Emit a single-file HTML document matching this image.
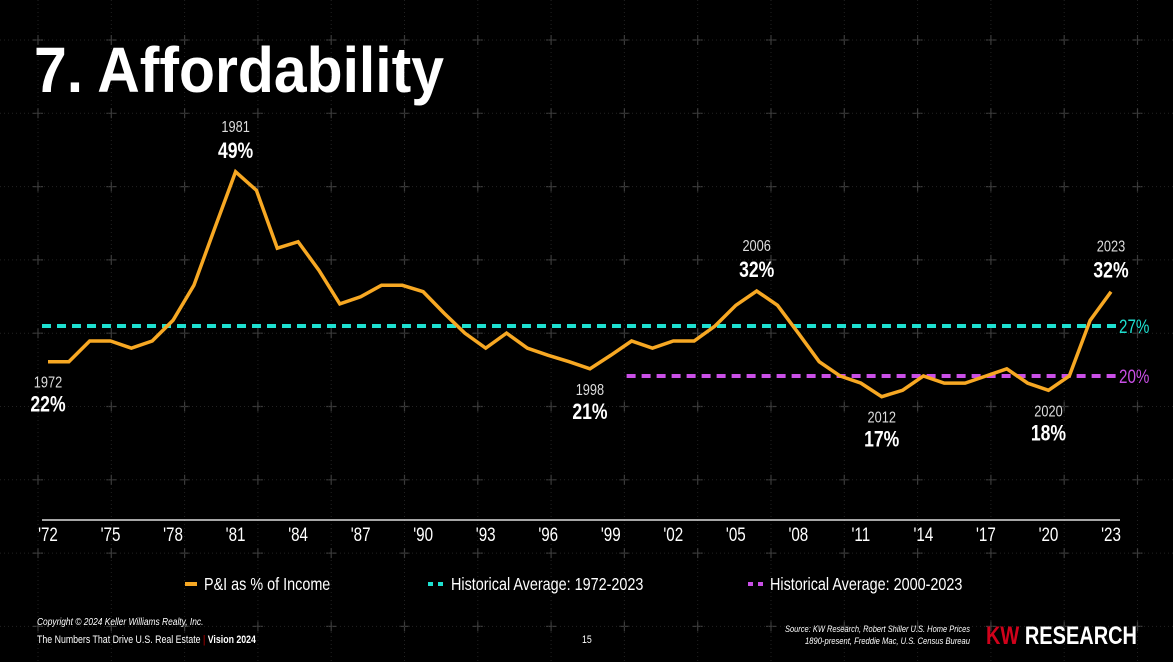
<!DOCTYPE html>
<html><head><meta charset="utf-8"><style>
body{margin:0;background:#000;width:1173px;height:662px;overflow:hidden;font-family:"Liberation Sans",sans-serif;color:#fff}
svg{position:absolute;left:0;top:0}
</style></head><body>
<svg width="1173" height="662" id="chart">
<g id="grid"></g>
<text x="34" y="92" font-size="64" font-weight="bold" fill="#fff" textLength="410" lengthAdjust="spacingAndGlyphs">7. Affordability</text>
<line x1="42" y1="520" x2="1120" y2="520" stroke="#ddd" stroke-width="1.5"/>
<g id="xticks"></g>
<g id="avgs"></g>
<g id="series"></g>
<g id="ann"></g>
<g font-size="18" fill="#fff">
<line x1="185" y1="584" x2="197" y2="584" stroke="#f7a823" stroke-width="4"/>
<text class="c" x="204" y="590">P&amp;I as % of Income</text>
<line x1="428" y1="584" x2="444" y2="584" stroke="#1ee0d0" stroke-width="4" stroke-dasharray="5,5"/>
<text class="c" x="451" y="590">Historical Average: 1972-2023</text>
<line x1="748" y1="584" x2="764" y2="584" stroke="#c94fe6" stroke-width="4" stroke-dasharray="5,5"/>
<text class="c" x="770" y="590">Historical Average: 2000-2023</text>
</g>
<g font-size="11" fill="#fff">
<text class="c" x="37" y="625" font-style="italic" font-size="10.5">Copyright © 2024 Keller Williams Realty, Inc.</text>
<text class="c" x="37" y="643">The Numbers That Drive U.S. Real Estate <tspan fill="#c00">|</tspan> <tspan font-weight="bold">Vision 2024</tspan></text>
<text class="c" x="582" y="643">15</text>
<text x="970" y="632" text-anchor="end" font-style="italic" font-size="9" textLength="185" lengthAdjust="spacingAndGlyphs">Source: KW Research, Robert Shiller U.S. Home Prices</text>
<text x="970" y="644" text-anchor="end" font-style="italic" font-size="9" textLength="165" lengthAdjust="spacingAndGlyphs">1890-present, Freddie Mac, U.S. Census Bureau</text>
<text x="986" y="644" font-size="25" font-weight="bold" textLength="151" lengthAdjust="spacingAndGlyphs"><tspan fill="#d0021b">KW</tspan><tspan fill="#fff"> RESEARCH</tspan></text>
</g>
</svg>
<script>
const years=[1972,1973,1974,1975,1976,1977,1978,1979,1980,1981,1982,1983,1984,1985,1986,1987,1988,1989,1990,1991,1992,1993,1994,1995,1996,1997,1998,1999,2000,2001,2002,2003,2004,2005,2006,2007,2008,2009,2010,2011,2012,2013,2014,2015,2016,2017,2018,2019,2020,2021,2022,2023];
const values=[22,22,24.9,24.9,23.9,24.9,27.8,32.7,40.7,48.6,46,37.9,38.8,34.8,30.1,31.1,32.7,32.7,31.8,28.8,26,23.9,26,23.9,22.9,22,21,22.9,24.9,23.9,24.9,24.9,27,29.9,31.9,29.9,26,22,20,19,17.1,18,20,19,19,20,21,19,18,20,27.8,31.8];
const tickLabels=["'72","'75","'78","'81","'84","'87","'90","'93","'96","'99","'02","'05","'08","'11","'14","'17","'20","'23"];
const tickYears=[1972,1975,1978,1981,1984,1987,1990,1993,1996,1999,2002,2005,2008,2011,2014,2017,2020,2023];
const avgAll=27, avgRecent=20, avgRecentStart=2000;
const annYears=[1972,1981,1998,2006,2012,2020,2023];
const annLabels=["22%","49%","21%","32%","17%","18%","32%"];
const annPos=["below","above","below","above","below","below","above"];
const NS="http://www.w3.org/2000/svg";
const x=y=>48+(y-1972)*(1111-48)/51;
const yS=v=>326-(v-27)*7.14;
function mk(t,a,p){const e=document.createElementNS(NS,t);for(const k in a)e.setAttribute(k,a[k]);p.appendChild(e);return e;}
const g=document.getElementById('grid');
for(let i=0;i<16;i++){const gx=38+i*73.3;
 const l=mk('line',{x1:gx,y1:0,x2:gx,y2:662,stroke:'#222','stroke-width':1,'stroke-dasharray':'1,3'},g);
 
 for(let j=0;j<9;j++){const gy=40+j*73.3;
  const c=mk('path',{d:`M${gx-5},${gy}H${gx+5}M${gx},${gy-5}V${gy+5}`,stroke:'#3a3a3a','stroke-width':1.2},g);
  }}
for(let j=0;j<9;j++){const gy=40+j*73.3;
 const l=mk('line',{x1:0,y1:gy,x2:1173,y2:gy,stroke:'#222','stroke-width':1,'stroke-dasharray':'1,3'},g);
 }
const xt=document.getElementById('xticks');
tickYears.forEach((ty,i)=>{const t=mk('text',{x:x(ty),y:541,'text-anchor':'middle','font-size':19,fill:'#fff',class:'c'},xt);t.textContent=tickLabels[i];
 });
const av=document.getElementById('avgs');
const a1=mk('line',{x1:x(1972)-6,y1:yS(avgAll),x2:x(2023)+5,y2:yS(avgAll),stroke:'#1ee0d0','stroke-width':4,'stroke-dasharray':'9,6'},av);

const a2=mk('line',{x1:x(avgRecentStart)-5,y1:yS(avgRecent),x2:x(2023)+5,y2:yS(avgRecent),stroke:'#c94fe6','stroke-width':4,'stroke-dasharray':'9,6'},av);

const t1=mk('text',{x:x(2023)+8,y:yS(avgAll)+7,'font-size':19,fill:'#1ee0d0',class:'c'},av);t1.textContent=avgAll+'%';

const t2=mk('text',{x:x(2023)+8,y:yS(avgRecent)+7,'font-size':19,fill:'#c94fe6',class:'c'},av);t2.textContent=avgRecent+'%';

const s=document.getElementById('series');
const pl=mk('polyline',{points:values.map((v,i)=>x(years[i])+','+yS(v)).join(' '),fill:'none',stroke:'#f7a823','stroke-width':3.5,'stroke-linejoin':'miter'},s);

const an=document.getElementById('ann');
annYears.forEach((ay,i)=>{const v=values[years.indexOf(ay)];let cx=x(ay),cy=yS(v);if(ay===1972)cx=48;
 const below=annPos[i]==='below';
 const yy=below?cy+26:cy-40, vy=below?cy+50:cy-14;
 const a=mk('text',{x:cx,y:yy,'text-anchor':'middle','font-size':16,fill:'#ddd',class:'c'},an);a.textContent=ay;
 
 const b=mk('text',{x:cx,y:vy,'text-anchor':'middle','font-size':22,'font-weight':'bold',fill:'#fff',class:'c'},an);b.textContent=annLabels[i];
 });
document.querySelectorAll('text.c').forEach(t=>{const tx=+t.getAttribute('x');t.setAttribute('transform',`translate(${tx},0) scale(0.8,1) translate(${-tx},0)`);});
</script>
</body></html>
